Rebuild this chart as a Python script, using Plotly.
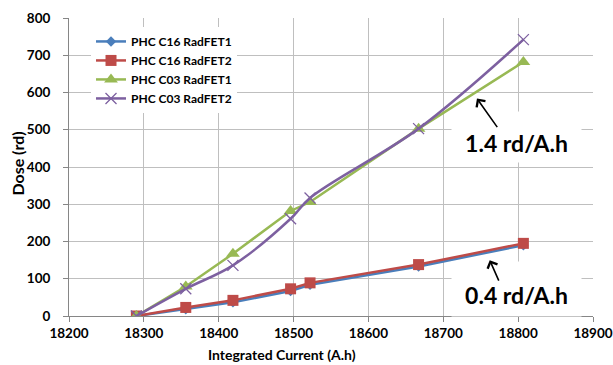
import plotly.graph_objects as go

current = [18290, 18356, 18419, 18496, 18522, 18667, 18807]
c16_fet1 = [0, 18, 37, 67, 84, 133, 190]
c16_fet2 = [0, 23, 42, 73, 89, 138, 195]
c03_fet1 = [0, 79, 167, 282, 306, 503, 682]
c03_fet2 = [0, 73, 136, 261, 317, 503, 742]

names = ["PHC C16 RadFET1", "PHC C16 RadFET2", "PHC C03 RadFET1", "PHC C03 RadFET2"]
x_ticks = [18200, 18300, 18400, 18500, 18600, 18700, 18800, 18900]
y_ticks = [0, 100, 200, 300, 400, 500, 600, 700, 800]

FONT = "Lato"
fig = go.Figure()
fig.add_trace(go.Scatter(x=current, y=c16_fet1, name=names[0], mode="lines+markers",
                         line=dict(color="#4A7EBB", width=2.5),
                         marker=dict(symbol="diamond", size=8, color="#4A7EBB")))
fig.add_trace(go.Scatter(x=current, y=c16_fet2, name=names[1], mode="lines+markers",
                         line=dict(color="#BE4B48", width=2.5),
                         marker=dict(symbol="square", size=11, color="#BE4B48")))
fig.add_trace(go.Scatter(x=current, y=c03_fet1, name=names[2], mode="lines+markers",
                         line=dict(color="#98B954", width=2.5),
                         marker=dict(symbol="triangle-up", size=12, color="#98B954")))
fig.add_trace(go.Scatter(x=current, y=c03_fet2, name=names[3], mode="lines+markers",
                         line=dict(color="#7D60A0", width=2.5, shape="spline"),
                         marker=dict(symbol="x-thin", size=11, color="#7D60A0",
                                     line=dict(color="#7D60A0", width=1.3))))

axis_common = dict(showgrid=True, gridcolor="#BFBFBF", gridwidth=1,
                   showline=True, linecolor="#868686", linewidth=1,
                   ticks="outside", ticklen=5, tickcolor="#868686",
                   zeroline=False, automargin=False,
                   tickfont=dict(family=FONT, size=13.5, color="black", weight="bold"))

fig.update_xaxes(range=[18200, 18900], tickvals=x_ticks, ticktext=[str(v) for v in x_ticks],
                 **axis_common)
fig.update_yaxes(range=[0, 800], tickvals=y_ticks, ticktext=[str(v) for v in y_ticks],
                 ticklabelstandoff=10, **axis_common)

fig.update_layout(
    width=613, height=365, autosize=False,
    margin=dict(l=69, r=20, t=18, b=49),
    plot_bgcolor="white", paper_bgcolor="white",
    showlegend=True,
    legend=dict(x=0.042, y=0.97, xanchor="left", yanchor="top",
                bgcolor="white", borderwidth=0,
                font=dict(family=FONT, size=12, color="black", weight="bold"),
                itemwidth=30, tracegroupgap=0),
    annotations=[
        dict(text="Integrated Current (A.h)", xref="paper", yref="paper",
             x=0.406, y=-0.13, xanchor="center", yanchor="middle", showarrow=False,
             font=dict(family=FONT, size=14, color="black", weight="bold")),
        dict(text="Dose (rd)", xref="paper", yref="paper", textangle=-90,
             x=-0.1, y=0.51, xanchor="center", yanchor="middle", showarrow=False,
             font=dict(family=FONT, size=16, color="black", weight="bold")),
        dict(text="1.4 rd/A.h", xref="x", yref="y", x=18798, y=480,
             xanchor="center", yanchor="middle", showarrow=False,
             width=119, height=40, bgcolor="white", borderpad=5, valign="bottom",
             font=dict(family=FONT, size=23, color="black", weight="bold")),
        dict(text="0.4 rd/A.h", xref="x", yref="y", x=18798, y=72,
             xanchor="center", yanchor="middle", showarrow=False,
             width=115, height=40, bgcolor="white", borderpad=7, valign="bottom",
             font=dict(family=FONT, size=23, color="black", weight="bold")),
        dict(text="", xref="x", yref="y", x=18745, y=584,
             axref="x", ayref="y", ax=18773.5, ay=503,
             showarrow=True, arrowhead=4, arrowsize=1.3, arrowwidth=1.6, arrowcolor="black"),
        dict(text="", xref="x", yref="y", x=18762, y=150,
             axref="x", ayref="y", ax=18775, ay=91,
             showarrow=True, arrowhead=4, arrowsize=1.3, arrowwidth=1.6, arrowcolor="black"),
    ],
)

fig.write_html("out.html",
               config={"displayModeBar": False, "responsive": False},
               post_script="document.body.style.margin='0';document.body.style.padding='0';"
                           "document.body.style.overflow='hidden';"
                           "document.documentElement.style.overflow='hidden';")
